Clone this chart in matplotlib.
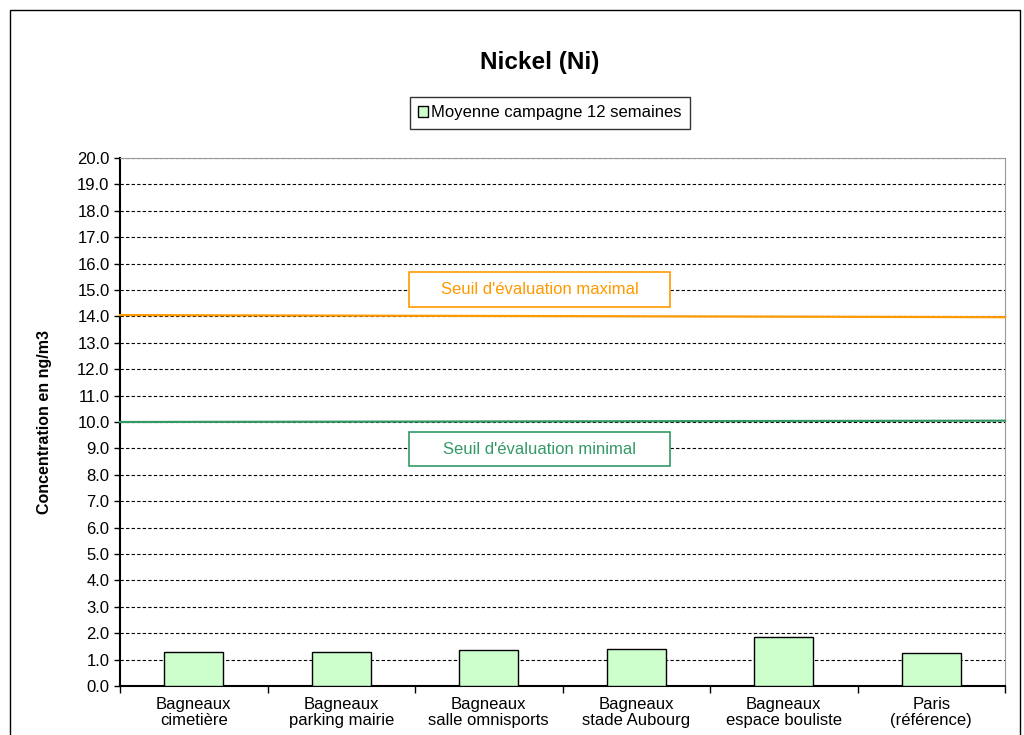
import numpy as np
import matplotlib.pyplot as plt
from matplotlib.patches import Rectangle

sites = ["Bagneaux\ncimetière", "Bagneaux\nparking mairie", "Bagneaux\nsalle omnisports",
         "Bagneaux\nstade Aubourg", "Bagneaux\nespace bouliste", "Paris\n(référence)"]
nickel = [1.30, 1.30, 1.35, 1.39, 1.86, 1.24]

# threshold lines (start / end value, as drawn across the plot)
seuil_max = [14.05, 13.97]
seuil_min = [10.0, 10.05]

plt.rcParams['font.family'] = ['Liberation Sans', 'DejaVu Sans']

fig = plt.figure(figsize=(10.24, 7.35), dpi=100)
ax = fig.add_axes([120 / 1024, 1 - 686 / 735, 885 / 1024, 528 / 735])

# outer chart frame
fig.patches.append(Rectangle((10 / 1024, -0.01), 1010 / 1024, 1 - 10 / 735 + 0.01,
                             transform=fig.transFigure, fill=False, lw=1, ec='black'))

x = np.arange(len(sites))
bars = ax.bar(x, nickel, width=0.4, color='#ccffcc', edgecolor='black', lw=1, zorder=3)

ax.set_xlim(-0.5, len(sites) - 0.5)
ax.set_ylim(0, 20)
ax.set_yticks(np.arange(0, 20.5, 1.0))
ax.set_yticklabels(["%.1f" % v for v in np.arange(0, 20.5, 1.0)], fontsize=12)
ax.grid(axis='y', ls=(0, (3, 2)), color='black', lw=0.8, zorder=1)
ax.tick_params(axis='y', length=4, direction='out', width=1)

ax.set_xticks(np.arange(-0.5, len(sites)), minor=False)
ax.set_xticklabels([])
ax.set_xticks(x, minor=True)
ax.set_xticklabels(sites, minor=True, fontsize=12, linespacing=1.1)
ax.tick_params(axis='x', which='major', length=5, width=1)
ax.tick_params(axis='x', which='minor', length=0, pad=8)

for s in ['top', 'right']:
    ax.spines[s].set_color('#999999')
for s in ['left', 'bottom']:
    ax.spines[s].set_linewidth(1.5)

# evaluation thresholds
ax.plot([-0.5, len(sites) - 0.5], seuil_max, color='#ff9900', lw=1.6, zorder=4, clip_on=False)
ax.plot([-0.5, len(sites) - 0.5], seuil_min, color='#339966', lw=1.6, zorder=4, clip_on=False)

# label boxes for the thresholds
for (y0, y1, yt), txt, col in [((14.36, 15.68, 15.0), "Seuil d'évaluation maximal", '#ff9900'),
                               ((8.33, 9.62, 8.95), "Seuil d'évaluation minimal", '#339966')]:
    ax.add_patch(Rectangle((1.46, y0), 1.77, y1 - y0, fc='white', ec=col, lw=1.2, zorder=5))
    ax.text(2.345, yt, txt, color=col, fontsize=12, ha='center', va='center', zorder=6)

ax.set_ylabel("Concentration en ng/m3", fontsize=11.5, fontweight='bold', labelpad=18)
fig.text(540 / 1024, 1 - 62 / 735, "Nickel (Ni)", fontsize=17.5, fontweight='bold',
         ha='center', va='center')

leg = ax.legend([bars[0]], ["Moyenne campagne 12 semaines"], loc='center',
                bbox_to_anchor=(550 / 1024, 1 - 113 / 735), bbox_transform=fig.transFigure,
                fontsize=12, fancybox=False, edgecolor='black', handlelength=0.6,
                handleheight=0.6, handletextpad=0.2, borderpad=0.5, borderaxespad=0)
leg.get_frame().set_linewidth(1)

fig.savefig('out.png', dpi=100)
